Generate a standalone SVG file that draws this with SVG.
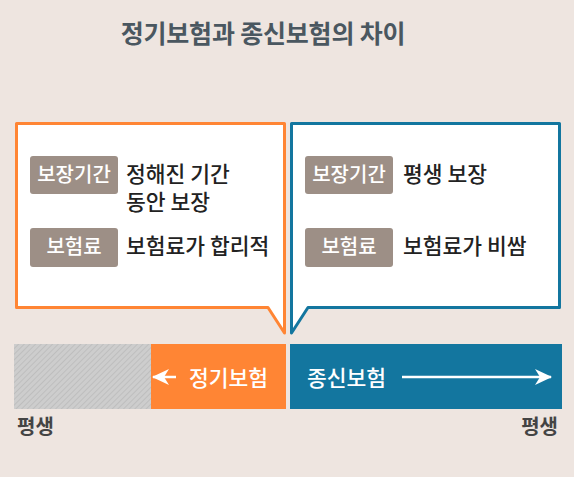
<svg xmlns="http://www.w3.org/2000/svg" width="574" height="477" viewBox="0 0 574 477">
<style>
text{font-family:"Noto Sans CJK KR","Noto Sans",sans-serif}
.title{font-size:25px;font-weight:700;fill:#4a5760;letter-spacing:-0.2px}
.badge{fill:#9d8f86}
.btxt{font-size:20px;fill:#fff;font-weight:500;text-anchor:middle}
.body{font-size:21.5px;fill:#222;font-weight:500}
.bar{font-size:21.5px;fill:#fff;font-weight:500}
.foot{font-size:20px;font-weight:700;fill:#444}
</style>
<defs>
<pattern id="hatch" patternUnits="userSpaceOnUse" width="4" height="4" patternTransform="rotate(45)">
<rect width="4" height="4" fill="#cdcdcd"/>
<line x1="0" y1="0" x2="0" y2="4" stroke="#b9b9b9" stroke-width="1.5"/>
</pattern>
<marker id="ah" markerWidth="18" markerHeight="18" refX="16" refY="9" orient="auto" markerUnits="userSpaceOnUse">
<path d="M0,1 L17,9 L0,17 L5,9 Z" fill="#fff"/>
</marker>
</defs>
<rect width="574" height="477" fill="#eee5e0"/>
<text class="title" x="263" y="43" text-anchor="middle">정기보험과 종신보험의 차이</text>

<g id="term-box">
<path d="M16.5,123.5 H284.5 V333 L268,307.5 H16.5 Z" fill="#fff" stroke="#ff8534" stroke-width="3" stroke-linejoin="round"/>
<rect class="badge" x="30" y="156" width="88" height="38" rx="3"/>
<text class="btxt" x="74" y="182">보장기간</text>
<rect class="badge" x="30" y="228" width="88" height="39" rx="3"/>
<text class="btxt" x="74" y="254">보험료</text>
<text class="body" x="126" y="182">정해진 기간</text>
<text class="body" x="126" y="210">동안 보장</text>
<text class="body" x="126" y="254">보험료가 합리적</text>
</g>

<g id="whole-box">
<path d="M291.5,123.5 H559.5 V307.5 H308 L291.5,333 Z" fill="#fff" stroke="#13769f" stroke-width="3" stroke-linejoin="round"/>
<rect class="badge" x="305" y="156" width="88" height="38" rx="3"/>
<text class="btxt" x="349" y="182">보장기간</text>
<rect class="badge" x="305" y="228" width="88" height="39" rx="3"/>
<text class="btxt" x="349" y="254">보험료</text>
<text class="body" x="403" y="182">평생 보장</text>
<text class="body" x="403" y="254">보험료가 비쌈</text>
</g>

<g id="timeline">
<rect x="14" y="344" width="137" height="65" fill="url(#hatch)"/>
<rect id="term-bar" x="151" y="344" width="135" height="65" fill="#ff8534"/>
<rect id="whole-bar" x="290" y="344" width="272" height="65" fill="#13769f"/>
<text class="bar" x="189" y="386">정기보험</text>
<text class="bar" x="307" y="386">종신보험</text>
<text class="foot" x="17" y="434">평생</text>
<text class="foot" x="558" y="434" text-anchor="end">평생</text>
</g>

<g id="connectors" stroke="#fff" stroke-width="2.5" fill="none">
<line x1="176" y1="377" x2="153" y2="377" marker-end="url(#ah)"/>
<line x1="402" y1="377" x2="551" y2="377" marker-end="url(#ah)"/>
</g>
</svg>
